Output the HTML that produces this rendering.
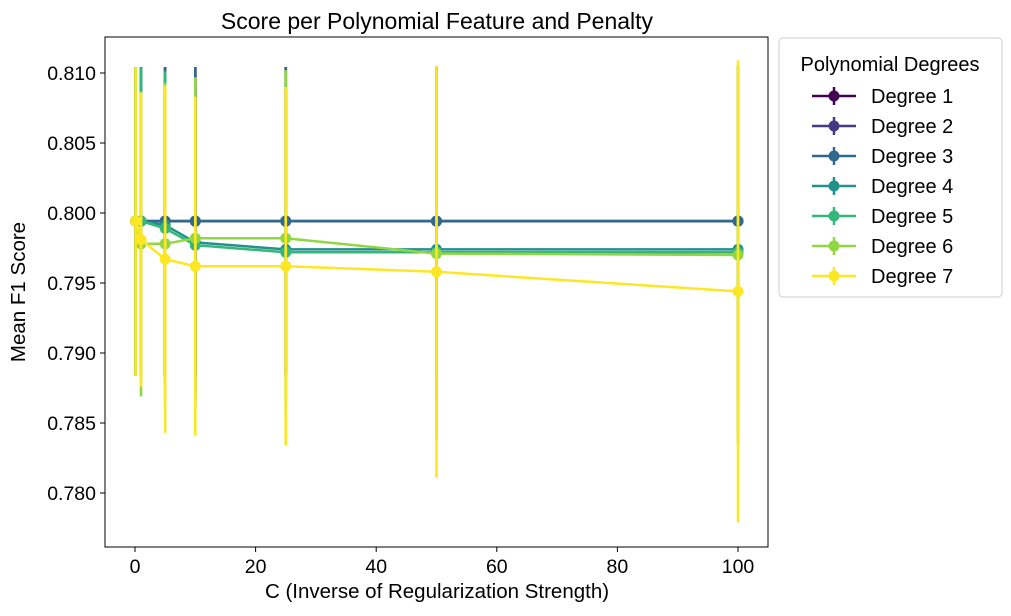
<!DOCTYPE html>
<html><head><meta charset="utf-8"><style>
body{margin:0;background:#fff;font-family:"Liberation Sans","DejaVu Sans",sans-serif}
</style></head><body>
<svg id="chart" width="1011" height="611" xmlns="http://www.w3.org/2000/svg" font-family="Liberation Sans, DejaVu Sans, sans-serif">
<text x="437" y="29" font-size="23" text-anchor="middle" fill="#000">Score per Polynomial Feature and Penalty</text>
<g id="plot"></g>
<rect x="105" y="37" width="663" height="510" fill="none" stroke="#000" stroke-width="1"/>
<g id="axes"></g>
<text x="437" y="598" font-size="20.5" text-anchor="middle">C (Inverse of Regularization Strength)</text>
<text transform="translate(25,292) rotate(-90)" font-size="20.5" text-anchor="middle">Mean F1 Score</text>
<g id="legend"></g>
</svg>
<script>
const cValues=[0.1,1,5,10,25,50,100];
const seriesNames=["Degree 1","Degree 2","Degree 3","Degree 4","Degree 5","Degree 6","Degree 7"];
const deg1=[0.79942,0.79942,0.79942,0.79942,0.79942,0.79942,0.79942];
const deg2=[0.79942,0.79942,0.79942,0.79942,0.79942,0.79942,0.79942];
const deg3=[0.79942,0.79942,0.79942,0.79942,0.79942,0.79942,0.79942];
const deg4=[0.79942,0.79942,0.79914,0.7979,0.7974,0.7974,0.7974];
const deg5=[0.79942,0.79942,0.7989,0.7977,0.7972,0.7972,0.7972];
const deg6=[0.79942,0.7978,0.7978,0.7982,0.7982,0.7971,0.7970];
const deg7=[0.79942,0.7981,0.7967,0.7962,0.7962,0.7958,0.7944];
const err1=[0.011,0.011,0.011,0.011,0.011,0.011,0.011];
const err2=[0.011,0.011,0.011,0.011,0.011,0.011,0.011];
const err3=[0.011,0.011,0.011,0.011,0.011,0.011,0.011];
const err4=[0.011,0.011,0.011,0.011,0.011,0.011,0.011];
const err5=[0.011,0.011,0.0112,0.0115,0.012,0.013,0.013];
const err6=[0.011,0.0109,0.0115,0.0115,0.012,0.0133,0.0135];
const err7=[0.011,0.0105,0.0124,0.0121,0.0128,0.0147,0.0165];
const xTicks=[0,20,40,60,80,100];
const yTicks=[0.780,0.785,0.790,0.795,0.800,0.805,0.810];
const colors=["#440154","#443983","#31688e","#21918c","#35b779","#90d743","#fde725"];
const allVals=[deg1,deg2,deg3,deg4,deg5,deg6,deg7];
const allErr=[err1,err2,err3,err4,err5,err6,err7];
const NS="http://www.w3.org/2000/svg";
const L=105,R=768,T=37,B=547;
const xs=v=>135+v*6.03;
const ys=v=>213-(v-0.8)*14000;
function mk(tag,attrs,parent){const e=document.createElementNS(NS,tag);for(const k in attrs)e.setAttribute(k,attrs[k]);parent.appendChild(e);return e;}
const plot=document.getElementById('plot');
const clip=mk('clipPath',{id:'cp'},plot);mk('rect',{x:L,y:T,width:R-L,height:B-T},clip);
const g=mk('g',{'clip-path':'url(#cp)'},plot);
allVals.forEach((vals,si)=>{
  const sg=mk('g',{},g);
  
  
  vals.forEach((v,i)=>{
    const l=mk('line',{x1:xs(cValues[i]),x2:xs(cValues[i]),y1:ys(v-allErr[si][i]),y2:ys(v+allErr[si][i]),stroke:colors[si],'stroke-width':2.6},sg);
    
    
  });
  const p=mk('polyline',{points:vals.map((v,i)=>xs(cValues[i])+','+ys(v)).join(' '),fill:'none',stroke:colors[si],'stroke-width':2.5},sg);
  
  
  vals.forEach((v,i)=>{
    const c=mk('circle',{cx:xs(cValues[i]),cy:ys(v),r:5.5,fill:colors[si]},sg);
    
    
  });
});
const axes=document.getElementById('axes');
xTicks.forEach(t=>{
  const x=xs(t);
  const l=mk('line',{x1:x,x2:x,y1:B,y2:B+5,stroke:'#000'},axes);
  
  
  const tx=mk('text',{x:x,y:B+26,'font-size':19.5,'text-anchor':'middle'},axes);
  tx.textContent=t;
  
  
});
yTicks.forEach(t=>{
  const y=ys(t);
  const l=mk('line',{x1:L-5,x2:L,y1:y,y2:y,stroke:'#000'},axes);
  
  
  const tx=mk('text',{x:L-9,y:y+7,'font-size':19.5,'text-anchor':'end'},axes);
  tx.textContent=t.toFixed(3);
  
  
});
const lg=document.getElementById('legend');
mk('rect',{x:779,y:38,width:223,height:259,rx:4,fill:'#fff',stroke:'#ccc'},lg);
const lt=mk('text',{x:890,y:71,'font-size':20,'text-anchor':'middle'},lg);
lt.textContent="Polynomial Degrees";


seriesNames.forEach((n,i)=>{
  const y=96+i*30;
  const e=mk('g',{},lg);
  
  
  mk('line',{x1:812,x2:856,y1:y,y2:y,stroke:colors[i],'stroke-width':2.5},e);
  mk('line',{x1:834,x2:834,y1:y-9,y2:y+9,stroke:colors[i],'stroke-width':2.5},e);
  mk('circle',{cx:834,cy:y,r:5.5,fill:colors[i]},e);
  const t=mk('text',{x:871,y:y+7,'font-size':20},e);
  t.textContent=n;
});
</script>
</body></html>
